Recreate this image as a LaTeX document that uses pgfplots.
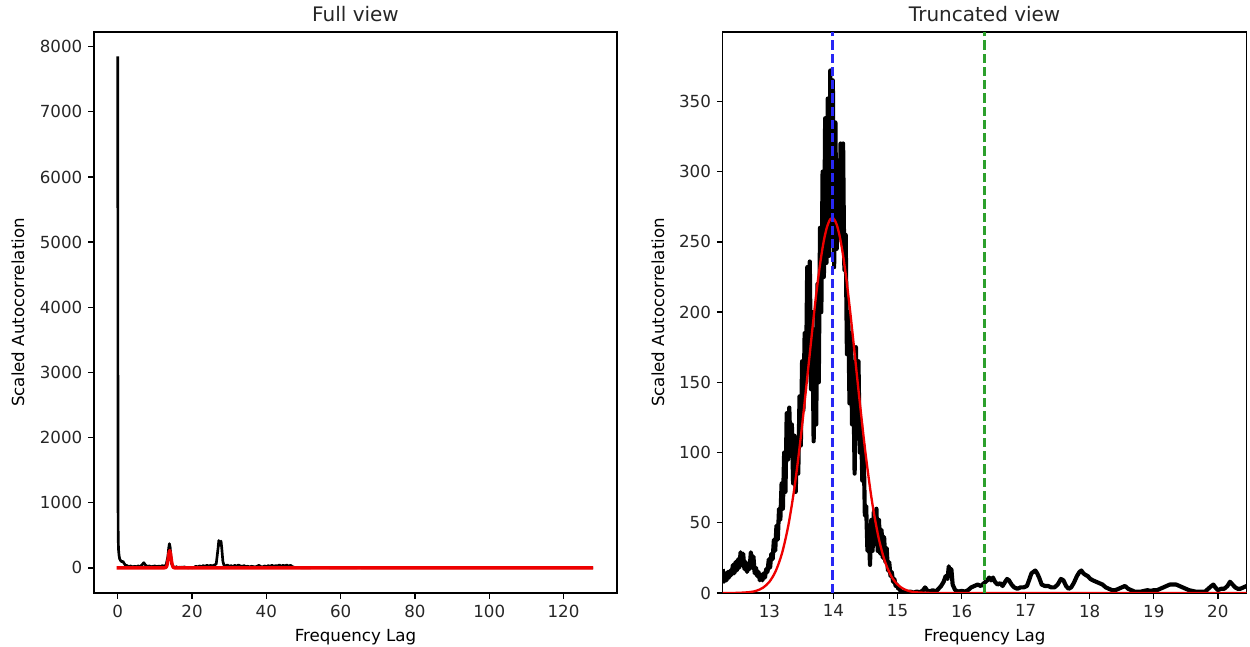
\documentclass[border=0pt]{standalone}
\usepackage{fontspec}
\setmainfont{DejaVu Sans}
\usepackage{pgfplots}
\pgfplotsset{compat=1.18}
\definecolor{mblue}{RGB}{40,40,245}
\definecolor{mgreen}{RGB}{44,160,44}
\definecolor{mred}{RGB}{238,0,0}
\definecolor{txt}{RGB}{38,38,38}
\pgfplotsset{
  mystyle/.style={
    scale only axis,
    height=336.6pt,
    axis line style={line width=0.8pt},
    tick align=outside,
    major tick length=3.5pt,
    every tick/.style={line width=0.8pt, black},
    xtick pos=bottom, ytick pos=left,
    tick label style={font=\fontsize{10}{12}\selectfont, text=txt},
    /pgf/number format/assume math mode=true,
    /pgf/number format/1000 sep={},
    scaled ticks=false,
    label style={font=\fontsize{10}{12}\selectfont, text=txt},
    every axis title shift=0pt,
    title style={font=\fontsize{12}{14}\selectfont, text=txt, at={(axis description cs:0.5,1.032)}, anchor=center},
    every axis x label/.style={at={(axis description cs:0.5,-0.0784)}, anchor=center},
    clip=true,
  }
}
\begin{document}
\begin{tikzpicture}
\path[use as bounding box] (-56.4pt,-32.4pt) rectangle (693.6pt,355.8pt);
% ---------------- Left: full view
\begin{axis}[mystyle,
  at={(0pt,0pt)}, anchor=south west,
  width=313.8pt,
  xmin=-6.4, xmax=134.4, ymin=-385, ymax=8225,
  xtick={0,20,...,120}, ytick={0,1000,...,8000},
  title={Full view},
  xlabel={Frequency Lag}, ylabel={Scaled Autocorrelation},
  every axis y label/.style={at={(axis description cs:-0.1453,0.5)}, rotate=90, anchor=center},
]
\addplot[black, line width=1.6pt, line join=round] coordinates {
(0,7850) (0.03,3620) (0.06,1400) (0.09,700) (0.12,450) (0.2,280) (0.35,190) (0.5,140) (0.8,110) (1.1,95) (1.4,100) (1.7,70) (2.0,45) (2.5,35) (3,20) (3.5,30) (4,15) (4.5,25) (5,18) (5.5,30) (6,20) (6.5,45) (7,80) (7.5,40) (8,25) (8.5,30) (9,18) (9.5,25) (10,30) (10.5,20) (11,28) (11.5,22) (12,35) (12.5,25) (13,45) (13.3,120) (13.5,180) (13.7,300) (13.9,372) (14.1,320) (14.3,180) (14.5,60) (14.8,40) (15.1,5) (15.5,3) (15.8,19) (16,3) (16.5,10) (17,8) (17.2,16) (17.5,5) (17.9,16) (18.3,5) (19,3) (19.4,7) (20,3) (20.5,6) (21,25) (21.5,15) (22,30) (22.5,20) (23,35) (23.5,25) (24,40) (24.5,30) (25,38) (25.5,30) (26,45) (26.5,60) (27,300) (27.2,420) (27.5,350) (27.8,410) (28,300) (28.3,100) (28.6,40) (29,30) (29.5,45) (30,25) (30.5,35) (31,20) (31.5,40) (32,25) (32.5,45) (33,30) (33.5,25) (34,35) (34.5,20) (35,25) (35.5,15) (36,25) (36.5,20) (37,15) (37.5,25) (38,40) (38.5,20) (39,15) (39.5,30) (40,20) (40.5,35) (41,25) (41.5,40) (42,25) (42.5,35) (43,30) (43.5,45) (44,25) (44.5,40) (45,30) (45.5,45) (46,25) (46.5,40) (47,20) (47.5,10) (48,5) (50,3) (55,5) (60,2) (65,4) (70,2) (75,3) (80,1) (90,1) (100,0.5) (110,0.5) (120,0.3) (128,0.2)
};
\addplot[mred, line width=2pt, line join=round] coordinates {
(-0.3,0) (12.5,0.09) (13.0,8) (13.2,28.9) (13.4,78.1) (13.6,157.6) (13.8,237.2) (13.98,267) (14.2,223.7) (14.4,140.2) (14.6,65.6) (14.8,22.9) (15.0,6) (15.3,0.5) (16,0) (128,0)
};
\end{axis}
% ---------------- Right: truncated view
\begin{axis}[mystyle,
  at={(377.2pt,0pt)}, anchor=south west,
  width=314.4pt,
  xmin=12.27, xmax=20.45, ymin=0, ymax=399.4,
  xtick={13,14,...,20}, ytick={0,50,...,350},
  title={Truncated view},
  xlabel={Frequency Lag}, ylabel={Scaled Autocorrelation},
  every axis y label/.style={at={(axis description cs:-0.1235,0.5)}, rotate=90, anchor=center},
]
\addplot[black, line width=2.5pt, line join=round] coordinates {
(12.27,17) (12.29,8) (12.31,14) (12.33,9) (12.35,15) (12.37,11) (12.39,16) (12.41,13) (12.43,20) (12.45,14) (12.47,22) (12.49,16) (12.51,24) (12.53,18) (12.55,29) (12.57,20) (12.59,28) (12.61,17) (12.63,22) (12.65,15) (12.67,20) (12.69,17) (12.71,29) (12.73,18) (12.75,26) (12.77,14) (12.79,18) (12.81,12) (12.83,15) (12.85,9) (12.87,13) (12.89,9) (12.91,14) (12.93,11) (12.95,17) (12.97,15)
(12.99,24) (13.01,18) (13.03,28) (13.05,24) (13.07,38) (13.09,30) (13.11,48) (13.13,38) (13.15,60) (13.17,52) (13.19,78) (13.21,60) (13.23,100) (13.25,72) (13.27,128) (13.29,95) (13.31,132) (13.33,100) (13.35,120) (13.37,78) (13.39,112) (13.41,72) (13.43,105) (13.45,85) (13.47,140) (13.49,105) (13.51,165) (13.53,130) (13.55,185) (13.57,150) (13.59,232) (13.61,160) (13.63,236) (13.65,145) (13.67,200) (13.69,108) (13.71,175) (13.73,120) (13.75,220) (13.76,165) (13.77,150) (13.79,260) (13.80,215) (13.81,200) (13.83,300) (13.84,250) (13.85,225) (13.87,338) (13.88,270) (13.89,235) (13.91,352) (13.92,280) (13.93,240) (13.95,372) (13.96,300) (13.97,250) (13.99,365) (14.00,290) (14.01,232) (14.03,335) (14.04,280) (14.05,245) (14.07,305) (14.08,270) (14.09,255) (14.11,320) (14.12,280) (14.13,250) (14.15,320) (14.16,270) (14.17,230) (14.19,255) (14.21,170) (14.23,200) (14.25,135) (14.27,185) (14.29,120) (14.31,150) (14.33,85) (14.35,175) (14.37,110) (14.39,165) (14.41,100) (14.43,120) (14.45,80) (14.47,105) (14.49,55) (14.51,62) (14.53,30) (14.55,45) (14.57,20) (14.59,52) (14.61,30) (14.63,58) (14.65,35) (14.67,60) (14.69,30) (14.71,52) (14.73,28) (14.75,45) (14.77,25) (14.79,40) (14.81,22) (14.83,32) (14.85,16) (14.87,22) (14.89,12) (14.91,15) (14.93,8) (14.95,10) (14.97,5) (14.99,6) (15.01,3) (15.03,3) (15.05,1)
(15.1,1) (15.15,0.3) (15.2,1) (15.25,0.3) (15.3,1) (15.35,0.5) (15.4,2) (15.43,4) (15.46,2) (15.5,1) (15.55,2) (15.6,1) (15.64,3) (15.68,5) (15.72,8) (15.75,12) (15.78,10) (15.8,19) (15.82,14) (15.84,17) (15.86,6) (15.88,4) (15.9,2) (15.95,1) (16.0,1.5) (16.05,1) (16.1,2) (16.15,4) (16.2,5) (16.25,6) (16.3,5) (16.35,7) (16.4,9) (16.43,11) (16.46,9) (16.49,11) (16.52,8) (16.56,6) (16.6,7) (16.64,5) (16.68,8) (16.71,10) (16.74,9) (16.78,6) (16.82,4) (16.87,3) (16.92,4) (16.97,4) (17.02,5) (17.06,10) (17.09,14) (17.12,15) (17.15,16) (17.18,14) (17.21,11) (17.25,6) (17.3,5) (17.35,5) (17.4,4) (17.45,4) (17.5,6) (17.55,10) (17.59,9) (17.63,5) (17.67,3) (17.71,4) (17.75,7) (17.8,12) (17.84,15) (17.87,16) (17.9,14) (17.93,13) (17.97,12) (18.01,10) (18.05,9) (18.1,8) (18.15,7) (18.2,6) (18.25,4) (18.3,3) (18.35,2) (18.4,2) (18.45,3) (18.5,4) (18.55,5) (18.6,3) (18.65,2) (18.7,1) (18.75,1) (18.8,1) (18.85,1.5) (18.9,2) (18.95,1.5) (19.0,2) (19.05,2) (19.1,3) (19.15,4) (19.2,5) (19.25,6) (19.3,6) (19.35,6) (19.4,5) (19.45,4) (19.5,3) (19.55,2) (19.6,1.5) (19.65,1) (19.7,1) (19.75,1) (19.8,1) (19.85,3) (19.9,5) (19.93,6) (19.96,4) (20.0,2) (20.05,3) (20.1,3) (20.15,5) (20.19,8) (20.23,6) (20.27,4) (20.31,3) (20.35,3) (20.4,4) (20.45,5)
};
\addplot[mred, line width=1.4pt, smooth] coordinates {
(12.27,0) (12.5,0.09) (12.7,0.67) (12.8,1.65) (12.9,3.77) (13.0,8.0) (13.1,15.8) (13.2,28.9) (13.3,49.3) (13.4,78.1) (13.5,115.2) (13.6,157.6) (13.7,200.5) (13.75,220.1) (13.8,237.2) (13.85,251.0) (13.9,260.8) (13.95,266.1) (14.0,266.6) (14.05,262.3) (14.1,253.3) (14.15,240.2) (14.2,223.7) (14.25,204.6) (14.3,183.7) (14.4,140.2) (14.5,99.5) (14.6,65.6) (14.7,40.2) (14.8,22.9) (14.9,12.1) (15.0,6.0) (15.1,2.74) (15.2,1.16) (15.3,0.46) (15.5,0.05) (15.7,0) (18,0) (20.45,0)
};
\addplot[mblue, line width=1.8pt, dash pattern=on 5.55pt off 2.4pt] coordinates {(13.98,0) (13.98,399.4)};
\addplot[mgreen, line width=1.8pt, dash pattern=on 5.55pt off 2.4pt] coordinates {(16.36,0) (16.36,399.4)};
\end{axis}
\end{tikzpicture}
\end{document}
